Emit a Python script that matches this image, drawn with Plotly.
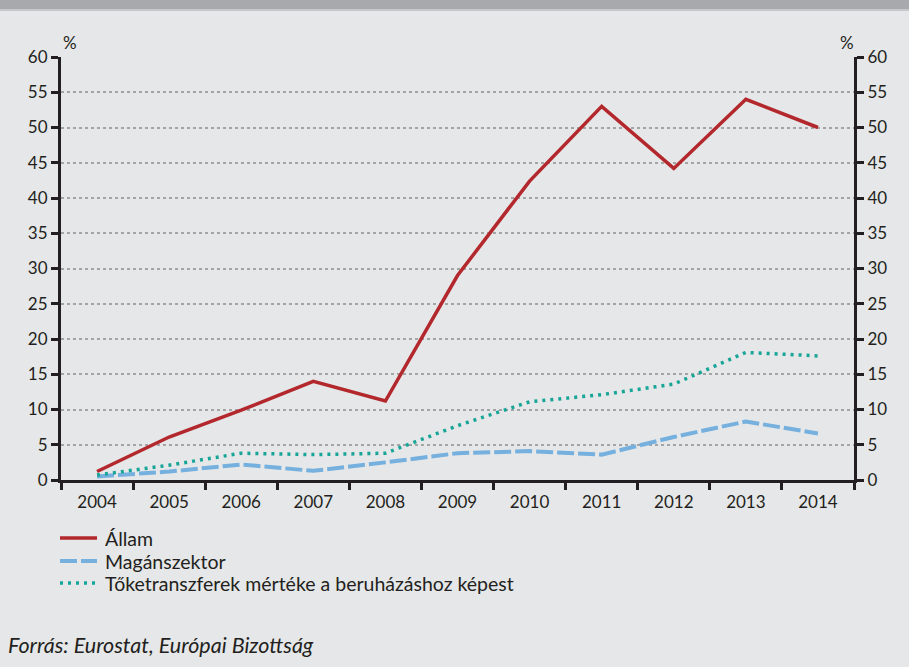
import plotly.graph_objects as go

# Data
years = ["2004", "2005", "2006", "2007", "2008", "2009", "2010", "2011", "2012", "2013", "2014"]
allam = [1.2, 6.1, 9.9, 14.0, 11.2, 29.0, 42.4, 53.0, 44.2, 54.0, 50.0]
maganszektor = [0.5, 1.2, 2.2, 1.3, 2.5, 3.8, 4.1, 3.6, 6.1, 8.3, 6.6]
toketranszfer = [0.7, 2.1, 3.8, 3.6, 3.8, 7.7, 11.1, 12.1, 13.6, 18.1, 17.6]

names = ["Állam", "Magánszektor", "Tőketranszferek mértéke a beruházáshoz képest"]
colors = ["#b3282d", "#75b0de", "#17a598"]
dashes = ["solid", "17px,4px", "3px,5px"]
widths = [3.5, 4, 3.5]

BG = "#e6e7e8"
FONT = "Lato"
TXT = "#231f20"

# plot area in pixels: x 61..854, y 57..480
L, R, T, B = 61, 55, 57, 187
PW, PH = 909 - L - R, 667 - T - B


def px_x(x):
    return (x - L) / PW


def px_y(y):
    return (667 - B - y) / PH


fig = go.Figure()

fig.add_trace(go.Scatter(x=years, y=allam, name=names[0], mode="lines",
                         line=dict(color=colors[0], width=widths[0])))
fig.add_trace(go.Scatter(x=years, y=maganszektor, name=names[1], mode="lines",
                         line=dict(color=colors[1], width=widths[1], dash=dashes[1])))
fig.add_trace(go.Scatter(x=years, y=toketranszfer, name=names[2], mode="lines",
                         line=dict(color=colors[2], width=widths[2], dash=dashes[2])))
# invisible trace so the right-hand axis is drawn
fig.add_trace(go.Scatter(x=[years[0]], y=[None], yaxis="y2", showlegend=False,
                         hoverinfo="skip", mode="lines"))

yticks = list(range(0, 61, 5))
axis_common = dict(ticks="outside", ticklen=7, tickwidth=2.5, tickcolor=TXT,
                   showline=True, linecolor=TXT, linewidth=3, zeroline=False,
                   tickfont=dict(family=FONT, size=17, color=TXT))

fig.update_layout(
    width=909, height=667,
    paper_bgcolor=BG, plot_bgcolor=BG,
    margin=dict(l=L, r=R, t=T, b=B),
    font=dict(family=FONT, size=17, color=TXT),
    xaxis=dict(type="category", range=[-0.5, 10.5], tickson="boundaries",
               showgrid=False, ticklabelstandoff=5, **axis_common),
    yaxis=dict(range=[0, 60], tickvals=yticks, showgrid=True, gridcolor="#a3a4a6",
               gridwidth=1.5, griddash="dot", **axis_common),
    yaxis2=dict(range=[0, 60], tickvals=yticks, overlaying="y", side="right",
                showgrid=False, **axis_common),
    showlegend=False,
)

# grey header band at the top of the panel
fig.add_shape(type="rect", xref="paper", yref="paper",
              x0=px_x(-5), x1=px_x(915), y0=px_y(9.5), y1=px_y(-2),
              fillcolor="#a7a9ac", line=dict(width=0), layer="above")
fig.add_shape(type="rect", xref="paper", yref="paper",
              x0=px_x(-5), x1=px_x(915), y0=px_y(11), y1=px_y(9.5),
              fillcolor="#c6c7c9", line=dict(width=0), layer="above")

# % unit labels over both axes
for xp in (70, 847):
    fig.add_annotation(text="%", xref="paper", yref="paper", x=px_x(xp), y=px_y(43),
                       xanchor="center", yanchor="middle", showarrow=False,
                       font=dict(family=FONT, size=17, color=TXT))

# legend below the plot, drawn by hand to match the tight row spacing
legend_rows = [538, 561, 583]
for name, col, dash, w, yr in zip(names, colors, dashes, widths, legend_rows):
    fig.add_shape(type="line", xref="paper", yref="paper",
                  x0=px_x(60), x1=px_x(97), y0=px_y(yr), y1=px_y(yr),
                  line=dict(color=col, width=w, dash=dash))
    fig.add_annotation(text=name, xref="paper", yref="paper", x=px_x(103), y=px_y(yr),
                       xanchor="left", yanchor="middle", showarrow=False,
                       font=dict(family=FONT, size=19.5, color=TXT))

# source line
fig.add_annotation(text="<i>Forrás: Eurostat, Európai Bizottság</i>",
                   xref="paper", yref="paper", x=px_x(6), y=px_y(645),
                   xanchor="left", yanchor="middle", showarrow=False,
                   font=dict(family=FONT, size=21.5, color=TXT))

fig.write_html("out.html", config={"displayModeBar": False},
               post_script="document.body.style.margin='0';document.body.style.overflow='hidden';")
